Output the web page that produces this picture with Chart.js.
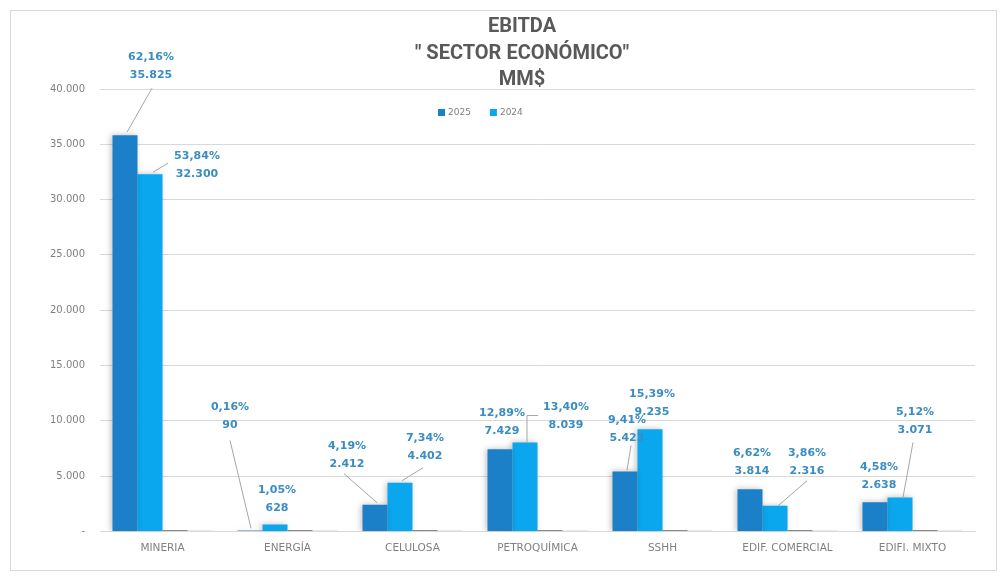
<!DOCTYPE html>
<html><head><meta charset="utf-8">
<script src="https://cdn.jsdelivr.net/npm/chart.js@4.4.1/dist/chart.umd.min.js"></script>
<style>html,body{margin:0;padding:0;background:#fff}#wrap{width:1004px;height:576px}</style>
</head><body><div id="wrap"><canvas id="c" width="1004" height="576"></canvas></div>
<script>
const categories = ['MINERIA', 'ENERGÍA', 'CELULOSA', 'PETROQUÍMICA', 'SSHH', 'EDIF. COMERCIAL', 'EDIFI. MIXTO'];
const values2025 = [35825, 90, 2412, 7429, 5423, 3814, 2638];
const values2024 = [32300, 628, 4402, 8039, 9235, 2316, 3071];
const share2025 = [62.16, 0.16, 4.19, 12.89, 9.41, 6.62, 4.58];
const share2024 = [53.84, 1.05, 7.34, 13.40, 15.39, 3.86, 5.12];
const yTicks = [0, 5000, 10000, 15000, 20000, 25000, 30000, 35000, 40000];
const seriesNames = ['2025', '2024', '% 2025', '% 2024'];
const titleLines = ['EBITDA', '" SECTOR ECONÓMICO"', 'MM$'];

function fmt(n){ return String(Math.round(n)).replace(/\B(?=(\d{3})+(?!\d))/g, '.'); }
function fmtPct(p){ return p.toFixed(2).replace('.', ',') + '%'; }

// label placement relative to bar top (style only)
const labelPlacement = [
  [ {dx:26,dy:-69,leader:[['l',1,22],['b',2,-3]]},
    {dx:-20,dy:-114,leader:[['l',0,24],['b',1,-2]]},
    {dx:-28,dy:-50,leader:[['l',-3,19],['b',2,-2]]},
    {dx:2,dy:-27},
    {dx:2,dy:-42,leader:[['l',4,16],['b',2,-1]]},
    {dx:2,dy:-27},
    {dx:4,dy:-26} ],
  [ {dx:47,dy:-9,leader:[['b',3,-2],['l',-29,-2]]},
    {dx:2,dy:-25},
    {dx:25,dy:-36,leader:[['b',2,-2],['l',-2,21]]},
    {dx:41,dy:-26,leader:[['b',2,0],['b',2,-27],['l',-28,-1]]},
    {dx:2,dy:-26},
    {dx:32,dy:-44,leader:[['b',3,0],['l',0,19]]},
    {dx:15,dy:-76,leader:[['l',-2,21],['b',3,0]]} ]
];

const decorPlugin = {
  id: 'decor',
  beforeDraw(chart){
    const ctx = chart.ctx;
    ctx.save();
    ctx.fillStyle = '#ffffff';
    ctx.fillRect(0, 0, chart.width, chart.height);
    ctx.strokeStyle = '#d9d9d9';
    ctx.lineWidth = 1;
    ctx.strokeRect(10.5, 10.5, 986, 560);
    ctx.restore();
  },
  beforeDatasetDraw(chart, args){
    if (args.index < 2) {
      const ctx = chart.ctx;
      ctx.save();
      ctx.shadowColor = 'rgba(0,0,0,0.25)';
      ctx.shadowBlur = 6;
      ctx.shadowOffsetX = -2;
      ctx.shadowOffsetY = 0;
    }
  },
  afterDatasetDraw(chart, args){
    if (args.index < 2) chart.ctx.restore();
  },
  afterDatasetsDraw(chart){
    const ctx = chart.ctx;
    ctx.save();
    // title
    ctx.fillStyle = '#595959';
    ctx.font = 'bold 20px Roboto';
    ctx.textAlign = 'center';
    ctx.textBaseline = 'middle';
    titleLines.forEach((t, i) => ctx.fillText(t, 522, 27 + i * 26.5));
    // legend
    ctx.font = '9px "DejaVu Sans"';
    ctx.textAlign = 'left';
    let x = 438;
    [0, 1].forEach(d => {
      const ds = chart.data.datasets[d];
      ctx.fillStyle = ds.backgroundColor;
      ctx.fillRect(x, 109, 7, 7);
      ctx.fillStyle = '#7f7f7f';
      ctx.fillText(ds.label, x + 10, 112.5);
      x += 10 + ctx.measureText(ds.label).width + 19;
    });
    // data labels
    ctx.font = 'bold 11px "DejaVu Sans"';
    ctx.textAlign = 'center';
    ctx.textBaseline = 'middle';
    [0, 1].forEach(d => {
      const meta = chart.getDatasetMeta(d);
      const shares = d === 0 ? share2025 : share2024;
      const vals = chart.data.datasets[d].data;
      meta.data.forEach((bar, i) => {
        const p = labelPlacement[d][i];
        const lx = bar.x + p.dx, ly = bar.y + p.dy;
        if (p.leader) {
          ctx.strokeStyle = '#a6a6a6';
          ctx.lineWidth = 1;
          ctx.beginPath();
          p.leader.forEach((pt, k) => {
            const px = (pt[0] === 'b' ? bar.x : lx) + pt[1];
            const py = (pt[0] === 'b' ? bar.y : ly) + pt[2];
            if (k === 0) ctx.moveTo(px, py); else ctx.lineTo(px, py);
          });
          ctx.stroke();
        }
        ctx.fillStyle = '#3a8cc3';
        ctx.fillText(fmtPct(shares[i]), lx, ly - 9);
        ctx.fillText(fmt(vals[i]), lx, ly + 9);
      });
    });
    ctx.restore();
  }
};

new Chart(document.getElementById('c'), {
  type: 'bar',
  data: {
    labels: categories,
    datasets: [
      {label: seriesNames[0], data: values2025, backgroundColor: '#1c80c8'},
      {label: seriesNames[1], data: values2024, backgroundColor: '#0aa7ee'},
      {label: seriesNames[2], data: share2025, backgroundColor: '#8a8a8a', minBarLength: 1.5},
      {label: seriesNames[3], data: share2024, backgroundColor: '#d4d4d4', minBarLength: 1}
    ]
  },
  options: {
    responsive: false,
    animation: false,
    devicePixelRatio: 1,
    layout: {padding: {left: 20, right: 29, top: 89, bottom: 10}},
    datasets: {bar: {categoryPercentage: 0.8, barPercentage: 1}},
    plugins: {legend: {display: false}, title: {display: false}, tooltip: {enabled: false}},
    scales: {
      x: {
        grid: {display: false, drawTicks: false},
        border: {display: true, color: '#d9d9d9'},
        ticks: {padding: 11, color: '#808080', font: {family: 'DejaVu Sans', size: 10.5}, maxRotation: 0, autoSkip: false}
      },
      y: {
        min: 0, max: 40000,
        afterFit(s){ s.width = 80; },
        afterBuildTicks(s){ s.ticks = yTicks.map(v => ({value: v})); },
        grid: {color: '#d9d9d9', drawTicks: false},
        border: {display: false},
        ticks: {padding: 15, color: '#808080', font: {family: 'DejaVu Sans', size: 10}, callback: v => v === 0 ? '-' : fmt(v)}
      }
    }
  },
  plugins: [decorPlugin]
});
</script>
</body></html>
